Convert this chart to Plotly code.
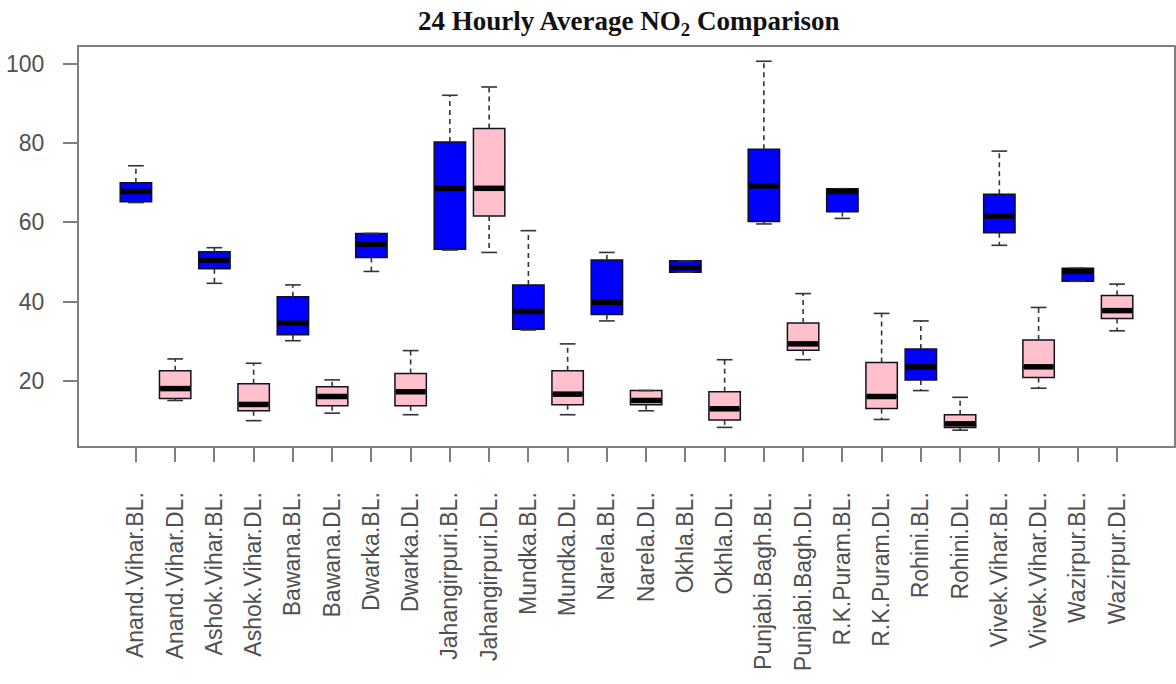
import plotly.graph_objects as go

stations = ["Anand.Vihar", "Ashok.Vihar", "Bawana", "Dwarka", "Jahangirpuri", "Mundka",
            "Narela", "Okhla", "Punjabi.Bagh", "R.K.Puram", "Rohini", "Vivek.Vihar", "Wazirpur"]
categories = [f"{s}.{t}." for s in stations for t in ("BL", "DL")]

lower = [65.0, 15.0, 44.6, 9.9, 30.1, 11.8, 47.6, 11.4, 53.0, 52.4, 32.8, 11.4, 35.1,
         12.4, 47.4, 8.2, 59.6, 25.3, 61.0, 10.2, 17.5, 7.5, 54.2, 18.1, 45.1, 32.6]
q1 = [65.2, 15.5, 48.3, 12.4, 31.6, 13.7, 51.1, 13.7, 53.2, 61.6, 33.0, 13.9, 36.7,
      13.9, 47.4, 10.1, 60.2, 27.7, 62.7, 13.0, 20.2, 8.2, 57.4, 20.8, 45.1, 35.7]
median = [67.8, 18.0, 50.5, 14.0, 34.5, 16.0, 54.5, 17.2, 68.6, 68.6, 37.5, 16.6, 39.8,
          15.0, 48.6, 12.9, 69.2, 29.3, 67.8, 16.0, 23.5, 9.1, 61.6, 23.5, 47.6, 37.7]
q3 = [70.0, 22.5, 52.6, 19.2, 41.2, 18.5, 57.2, 21.8, 80.3, 83.7, 44.2, 22.5, 50.5,
      17.5, 50.3, 17.2, 78.5, 34.6, 68.5, 24.6, 28.0, 11.4, 67.1, 30.3, 48.4, 41.5]
upper = [74.3, 25.5, 53.6, 24.4, 44.2, 20.2, 57.2, 27.6, 92.1, 94.2, 57.9, 29.3, 52.4,
         17.5, 50.3, 25.3, 100.7, 42.0, 68.5, 37.0, 35.1, 15.8, 78.0, 38.5, 48.4, 44.4]
y_ticks = [20, 40, 60, 80, 100]

BOX_W = 0.8
CAP_W = 0.4
fills = {"BL": "#0000FF", "DL": "#FFC0CB"}

fig = go.Figure()
pos = list(range(1, len(categories) + 1))

for kind in ("BL", "DL"):
    idx = [i for i, c in enumerate(categories) if c.endswith(kind + ".")]
    fig.add_trace(go.Box(
        x=[pos[i] for i in idx],
        q1=[q1[i] for i in idx], median=[median[i] for i in idx], q3=[q3[i] for i in idx],
        lowerfence=[q1[i] for i in idx], upperfence=[q3[i] for i in idx],
        width=BOX_W, fillcolor=fills[kind], line=dict(color="#111122", width=1.5),
        whiskerwidth=0, boxpoints=False, showlegend=False, hoverinfo="skip"))

# dashed whiskers
wx, wy = [], []
for i, p in enumerate(pos):
    wx += [p, p, None, p, p, None]
    wy += [q3[i], upper[i], None, q1[i], lower[i], None]
fig.add_trace(go.Scatter(x=wx, y=wy, mode="lines", line=dict(color="#333333", width=1.6, dash="5px,4px"),
                         showlegend=False, hoverinfo="skip"))
# caps
cx, cy = [], []
for i, p in enumerate(pos):
    cx += [p - CAP_W / 2, p + CAP_W / 2, None, p - CAP_W / 2, p + CAP_W / 2, None]
    cy += [upper[i], upper[i], None, lower[i], lower[i], None]
fig.add_trace(go.Scatter(x=cx, y=cy, mode="lines", line=dict(color="#333333", width=1.6),
                         showlegend=False, hoverinfo="skip"))
# thick medians
mx, my = [], []
for i, p in enumerate(pos):
    mx += [p - BOX_W / 2 + 0.02, p + BOX_W / 2 - 0.02, None]
    my += [median[i], median[i], None]
fig.add_trace(go.Scatter(x=mx, y=my, mode="lines", line=dict(color="#000000", width=5.5),
                         showlegend=False, hoverinfo="skip"))

axis_common = dict(showline=True, linecolor="#7f7f7f", linewidth=2, mirror=True, showgrid=False,
                   zeroline=False, ticks="outside", ticklen=14, tickwidth=2, tickcolor="#7f7f7f",
                   automargin=False,
                   tickfont=dict(family="Liberation Sans, Arial", size=23, color="#505050"))

fig.update_layout(
    width=1176, height=684,
    margin=dict(l=79, r=2, t=47, b=238),
    paper_bgcolor="white", plot_bgcolor="white",
    title=dict(text="<b>24 Hourly Average NO<sub>2</sub> Comparison</b>",
               font=dict(family="Liberation Serif, Times New Roman", size=27, color="#111111"),
               x=0.502, xref="paper", xanchor="center", y=1 - 21 / 684, yref="container", yanchor="middle"),
    xaxis=dict(range=[-0.45, 27.45], tickvals=pos, ticktext=categories, tickangle=-90,
               ticklabelstandoff=21, **axis_common),
    yaxis=dict(range=[3.5, 104.3], tickvals=y_ticks, ticklabelstandoff=14, **axis_common),
)

fig.write_html("out.html", config={"displayModeBar": False},
               post_script="document.body.style.margin='0';")
